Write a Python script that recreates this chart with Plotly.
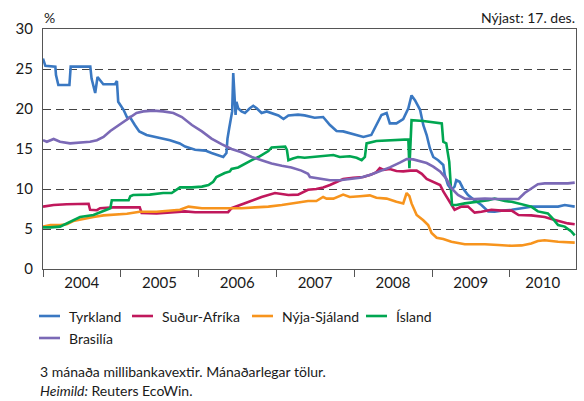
import plotly.graph_objects as go

# --- Series data: 3-month interbank rates (%) ---------------------------
tyrkland_dates = [
    "2004-01-01", "2004-01-12", "2004-02-28", "2004-03-02", "2004-03-13", "2004-05-04",
    "2004-05-10", "2004-08-10", "2004-08-16", "2004-09-02", "2004-09-13", "2004-10-10",
    "2004-12-04", "2004-12-13", "2004-12-19", "2005-01-13", "2005-02-01", "2005-02-12",
    "2005-03-07", "2005-03-28", "2005-05-01", "2005-06-10", "2005-07-19", "2005-08-19",
    "2005-10-04", "2005-10-29", "2005-12-15", "2006-02-01", "2006-03-02", "2006-04-03",
    "2006-04-26", "2006-05-11", "2006-05-16", "2006-05-24", "2006-06-07", "2006-06-12",
    "2006-06-17", "2006-06-23", "2006-06-27", "2006-07-05", "2006-07-21", "2006-08-06",
    "2006-08-29", "2006-09-14", "2006-09-30", "2006-10-23", "2006-11-16", "2006-12-09",
    "2007-01-10", "2007-02-03", "2007-02-26", "2007-04-12", "2007-05-13", "2007-06-29",
    "2007-08-08", "2007-09-09", "2007-10-10", "2007-11-10", "2007-12-11", "2008-01-12",
    "2008-02-13", "2008-03-21", "2008-04-14", "2008-05-08", "2008-06-01", "2008-06-16",
    "2008-07-17", "2008-08-18", "2008-09-11", "2008-09-26", "2008-10-12", "2008-11-05",
    "2008-11-20", "2008-12-06", "2008-12-21", "2009-01-06", "2009-01-29", "2009-02-22",
    "2009-03-01", "2009-03-16", "2009-04-01", "2009-04-16", "2009-04-24", "2009-05-10",
    "2009-05-25", "2009-06-18", "2009-07-19", "2009-08-20", "2009-09-21", "2009-10-21",
    "2009-11-22", "2010-01-09", "2010-02-25", "2010-04-11", "2010-06-13", "2010-08-15",
    "2010-09-15", "2010-11-01",
]
tyrkland_values = [
    26.3, 25.4, 25.3, 24.25, 23.0, 23.0,
    25.3, 25.3, 23.8, 22.0, 24.0, 23.1,
    23.1, 23.5, 20.9, 19.9, 18.8, 19.0,
    18.0, 17.2, 16.75, 16.5, 16.3, 16.1,
    15.7, 15.3, 14.9, 14.8, 14.5, 14.2,
    14.0, 14.5, 16.3, 17.6, 19.7, 24.5,
    21.3, 19.25, 20.9, 20.1, 19.7, 19.5,
    20.1, 20.4, 20.1, 19.5, 19.7, 19.5,
    19.2, 18.75, 19.2, 19.3, 19.2, 18.9,
    19.0, 18.0, 17.25, 17.2, 17.0, 16.75,
    16.5, 16.75, 18.0, 19.25, 19.5, 18.2,
    18.2, 18.75, 20.1, 21.7, 21.1, 19.9,
    18.0, 16.75, 15.1, 14.0, 13.6, 13.0,
    11.75, 10.5, 9.9, 10.3, 11.1, 10.9,
    10.1, 9.25, 8.6, 8.0, 7.2, 7.15,
    7.3, 7.4, 7.6, 7.8, 7.8, 7.8,
    8.0, 7.8,
]

sudur_afrika_dates = [
    "2004-01-01", "2004-02-20", "2004-04-21", "2004-07-09", "2004-08-02", "2004-08-09",
    "2004-09-10", "2004-09-25", "2004-11-27", "2005-03-30", "2005-04-08", "2005-06-17",
    "2005-10-05", "2005-10-29", "2005-12-15", "2006-05-19", "2006-06-04", "2006-07-21",
    "2006-09-07", "2006-10-23", "2006-12-25", "2007-01-26", "2007-02-26", "2007-04-12",
    "2007-05-29", "2007-07-07", "2007-08-08", "2007-09-09", "2007-10-10", "2007-11-10",
    "2007-12-27", "2008-02-13", "2008-03-21", "2008-04-14", "2008-04-30", "2008-05-16",
    "2008-06-16", "2008-07-17", "2008-08-18", "2008-09-19", "2008-10-20", "2008-11-13",
    "2008-12-06", "2009-01-06", "2009-02-07", "2009-02-22", "2009-03-16", "2009-04-16",
    "2009-05-18", "2009-06-18", "2009-07-19", "2009-08-20", "2009-10-06", "2009-11-22",
    "2010-01-09", "2010-02-10", "2010-04-11", "2010-06-13", "2010-07-14", "2010-08-15",
    "2010-09-30", "2010-11-01",
]
sudur_afrika_values = [
    7.8, 8.0, 8.1, 8.17, 8.15, 7.4,
    7.35, 7.6, 7.7, 7.7, 7.0, 6.95,
    7.1, 7.2, 7.1, 7.1, 7.6, 8.1,
    8.6, 9.0, 9.5, 9.4, 9.25, 9.3,
    9.9, 10.0, 10.2, 10.5, 10.9, 11.25,
    11.4, 11.5, 11.8, 12.1, 12.6, 12.4,
    12.5, 12.25, 12.2, 12.3, 12.3, 11.9,
    11.25, 10.9, 10.5, 9.7, 8.75, 7.4,
    7.8, 7.8, 7.05, 7.15, 7.4, 7.3,
    7.3, 6.75, 6.7, 6.5, 6.25, 6.0,
    5.7, 5.6,
]

nyja_sjaland_dates = [
    "2004-01-01", "2004-02-05", "2004-03-21", "2004-04-21", "2004-05-22", "2004-07-09",
    "2004-08-25", "2004-10-11", "2004-11-27", "2005-01-29", "2005-03-30", "2005-06-17",
    "2005-10-05", "2005-11-14", "2006-01-16", "2006-03-17", "2006-05-19", "2006-07-21",
    "2006-09-22", "2006-11-24", "2007-01-26", "2007-03-27", "2007-05-29", "2007-07-07",
    "2007-08-08", "2007-08-24", "2007-09-25", "2007-11-10", "2007-12-11", "2008-01-28",
    "2008-03-14", "2008-04-14", "2008-06-01", "2008-07-17", "2008-08-18", "2008-09-03",
    "2008-09-16", "2008-09-26", "2008-10-20", "2008-11-20", "2008-12-13", "2008-12-29",
    "2009-01-22", "2009-02-22", "2009-04-01", "2009-06-03", "2009-09-05", "2009-11-07",
    "2010-01-09", "2010-02-25", "2010-04-11", "2010-05-12", "2010-06-13", "2010-08-15",
    "2010-11-01",
]
nyja_sjaland_values = [
    5.3, 5.5, 5.5, 5.6, 6.0, 6.3,
    6.5, 6.7, 6.75, 6.9, 7.15, 7.15,
    7.4, 7.8, 7.6, 7.6, 7.55, 7.6,
    7.7, 7.8, 8.0, 8.2, 8.5, 8.5,
    9.0, 8.8, 8.8, 9.3, 9.0, 9.1,
    9.2, 8.9, 8.8, 8.4, 8.2, 9.5,
    9.1, 8.2, 6.75, 6.1, 5.5, 4.5,
    3.9, 3.75, 3.4, 3.1, 3.1, 3.0,
    2.9, 2.95, 3.2, 3.5, 3.6, 3.4,
    3.3,
]

island_dates = [
    "2004-01-01", "2004-02-05", "2004-03-21", "2004-05-07", "2004-06-23", "2004-08-25",
    "2004-10-11", "2004-11-12", "2004-11-19", "2005-02-06", "2005-02-14", "2005-02-27",
    "2005-05-16", "2005-07-18", "2005-08-27", "2005-09-19", "2005-10-05", "2005-11-30",
    "2006-01-16", "2006-02-16", "2006-03-10", "2006-03-25", "2006-05-03", "2006-05-27",
    "2006-06-04", "2006-07-05", "2006-08-06", "2006-09-07", "2006-10-08", "2006-11-01",
    "2006-11-24", "2006-12-09", "2007-02-11", "2007-02-19", "2007-02-26", "2007-03-19",
    "2007-04-12", "2007-05-13", "2007-06-29", "2007-08-08", "2007-09-25", "2007-10-25",
    "2007-12-11", "2008-01-12", "2008-02-05", "2008-02-20", "2008-02-28", "2008-04-14",
    "2008-06-16", "2008-09-11", "2008-09-16", "2008-09-26", "2008-11-20", "2009-01-22",
    "2009-02-15", "2009-02-22", "2009-03-08", "2009-03-14", "2009-03-22", "2009-04-04",
    "2009-04-24", "2009-06-03", "2009-08-05", "2009-09-21", "2009-10-21", "2009-12-08",
    "2010-01-09", "2010-02-25", "2010-04-11", "2010-05-12", "2010-06-28", "2010-07-21",
    "2010-08-15", "2010-09-15", "2010-10-16", "2010-11-01",
]
island_values = [
    5.2, 5.2, 5.3, 5.9, 6.5, 6.75,
    7.2, 7.6, 8.6, 8.6, 9.1, 9.25,
    9.3, 9.5, 9.5, 9.9, 10.2, 10.2,
    10.3, 10.5, 10.9, 11.5, 12.0, 12.2,
    12.5, 12.7, 13.2, 13.6, 14.0, 14.4,
    14.75, 15.2, 15.3, 14.9, 13.6, 13.8,
    14.0, 13.9, 14.0, 14.1, 14.25, 14.0,
    14.1, 13.9, 13.6, 14.0, 15.7, 16.0,
    16.1, 16.2, 12.6, 18.6, 18.5, 18.3,
    18.2, 15.9, 15.7, 14.7, 13.4, 8.0,
    8.0, 8.2, 8.4, 8.6, 8.8, 8.5,
    8.4, 8.1, 7.8, 7.2, 6.95, 6.3,
    5.5, 5.3, 4.7, 4.2,
]

brasilia_dates = [
    "2004-01-01", "2004-01-19", "2004-02-20", "2004-03-21", "2004-05-07", "2004-06-23",
    "2004-08-09", "2004-09-10", "2004-10-11", "2004-11-12", "2004-12-12", "2005-01-13",
    "2005-02-14", "2005-03-15", "2005-04-16", "2005-06-02", "2005-07-18", "2005-09-04",
    "2005-10-14", "2005-11-30", "2006-01-16", "2006-03-02", "2006-04-18", "2006-06-04",
    "2006-07-21", "2006-09-07", "2006-10-23", "2006-12-09", "2007-01-26", "2007-03-12",
    "2007-04-28", "2007-05-29", "2007-06-07", "2007-07-23", "2007-09-09", "2007-10-25",
    "2007-12-11", "2008-01-28", "2008-03-14", "2008-04-30", "2008-06-16", "2008-08-02",
    "2008-09-03", "2008-10-04", "2008-11-05", "2008-12-06", "2009-01-06", "2009-02-07",
    "2009-03-08", "2009-04-01", "2009-05-02", "2009-06-03", "2009-07-19", "2009-09-05",
    "2009-11-07", "2010-01-09", "2010-02-10", "2010-03-11", "2010-04-11", "2010-05-12",
    "2010-06-13", "2010-08-15", "2010-09-30", "2010-11-01",
]
brasilia_values = [
    16.1, 15.9, 16.25, 15.9, 15.7, 15.8,
    15.9, 16.1, 16.5, 17.25, 17.8, 18.4,
    19.0, 19.5, 19.7, 19.8, 19.7, 19.5,
    19.0, 18.0, 17.2, 16.3, 15.6, 15.0,
    14.6, 14.0, 13.6, 13.2, 12.9, 12.7,
    12.3, 11.9, 11.5, 11.3, 11.1, 11.1,
    11.25, 11.4, 11.75, 12.2, 12.7, 13.3,
    13.75, 13.7, 13.5, 13.25, 12.8, 12.2,
    11.3, 10.1, 9.25, 8.8, 8.75, 8.8,
    8.75, 8.8, 8.75, 9.5, 10.1, 10.6,
    10.7, 10.65, 10.7, 10.8,
]

series_names = ["Tyrkland", "Suður-Afríka", "Nýja-Sjáland", "Ísland", "Brasilía"]
series_dates = [tyrkland_dates, sudur_afrika_dates, nyja_sjaland_dates, island_dates, brasilia_dates]
series_values = [tyrkland_values, sudur_afrika_values, nyja_sjaland_values, island_values, brasilia_values]
series_colors = ["#3a78c2", "#c0185c", "#f7941d", "#00a651", "#7b69b6"]

# --- Axis labels ---------------------------------------------------------
year_labels = ["2004", "2005", "2006", "2007", "2008", "2009", "2010"]
year_label_dates = ["2004-07-01", "2005-07-01", "2006-07-01", "2007-07-01",
                    "2008-07-01", "2009-07-01", "2010-06-04"]
y_ticks = [0, 5, 10, 15, 20, 25, 30]

x_start, x_end = "2004-01-01", "2010-11-07"

FONT = "Lato"
W, H = 584, 401
ML, MR, MT, MB = 43, 8, 29, 132
PW, PH = W - ML - MR, H - MT - MB


def px_to_paper(px, py):
    return (px - ML) / PW, (H - MB - py) / PH


fig = go.Figure()
for name, xs, ys, col in zip(series_names, series_dates, series_values, series_colors):
    fig.add_trace(go.Scatter(
        x=xs, y=ys, name=name, mode="lines",
        line=dict(color=col, width=2.6),
        showlegend=False,
    ))

fig.update_layout(
    width=W, height=H,
    margin=dict(l=ML, r=MR, t=MT, b=MB),
    paper_bgcolor="white", plot_bgcolor="white",
    font=dict(family=FONT, size=14, color="#1a1a1a"),
)

fig.update_xaxes(
    type="date", range=[x_start, x_end],
    tickvals=year_label_dates, ticktext=year_labels,
    ticks="", showgrid=False,
    showline=True, linecolor="#555555", linewidth=1.3, mirror=True,
    tickfont=dict(size=15),
    minor=dict(ticks="outside", ticklen=7, tickcolor="#555555", tickwidth=1.3,
               dtick="M12", tick0="2004-01-01", showgrid=False),
)
fig.update_yaxes(
    range=[0, 30], tickvals=y_ticks,
    ticks="outside", ticklen=6, tickcolor="rgba(0,0,0,0)",
    showgrid=True, gridcolor="#444444", gridwidth=1.3, griddash="8px,5px",
    showline=True, linecolor="#555555", linewidth=1.3, mirror=True,
    zeroline=False, tickfont=dict(size=15),
)

# Legend drawn as line samples with labels, two rows under the axis
legend_slots = [(39, 316), (132, 316), (252, 316), (366, 316), (39, 338)]
for name, col, (lx, ly) in zip(series_names, series_colors, legend_slots):
    x0, y0 = px_to_paper(lx, ly)
    x1, _ = px_to_paper(lx + 21, ly)
    fig.add_shape(type="line", xref="paper", yref="paper",
                  x0=x0, x1=x1, y0=y0, y1=y0,
                  line=dict(color=col, width=2.6))
    tx, _ = px_to_paper(lx + 28, ly)
    fig.add_annotation(xref="paper", yref="paper", x=tx, y=y0, text=name,
                       showarrow=False, xanchor="left", yanchor="middle",
                       font=dict(size=14))

# Unit label and latest-date note above the plot
ux, uy = px_to_paper(42, 18)
fig.add_annotation(xref="paper", yref="paper", x=ux, y=uy, text="%",
                   showarrow=False, xanchor="left", yanchor="middle", font=dict(size=14))
nx, ny = px_to_paper(577, 18)
fig.add_annotation(xref="paper", yref="paper", x=nx, y=ny, text="Nýjast: 17. des.",
                   showarrow=False, xanchor="right", yanchor="middle", font=dict(size=14))

# Footnotes
f1x, f1y = px_to_paper(38, 371)
fig.add_annotation(xref="paper", yref="paper", x=f1x, y=f1y,
                   text="3 mánaða millibankavextir. Mánaðarlegar tölur.",
                   showarrow=False, xanchor="left", yanchor="middle", font=dict(size=14))
f2x, f2y = px_to_paper(38, 390)
fig.add_annotation(xref="paper", yref="paper", x=f2x, y=f2y,
                   text="<i>Heimild:</i> Reuters EcoWin.",
                   showarrow=False, xanchor="left", yanchor="middle", font=dict(size=14))

fig.write_html("out.html")
